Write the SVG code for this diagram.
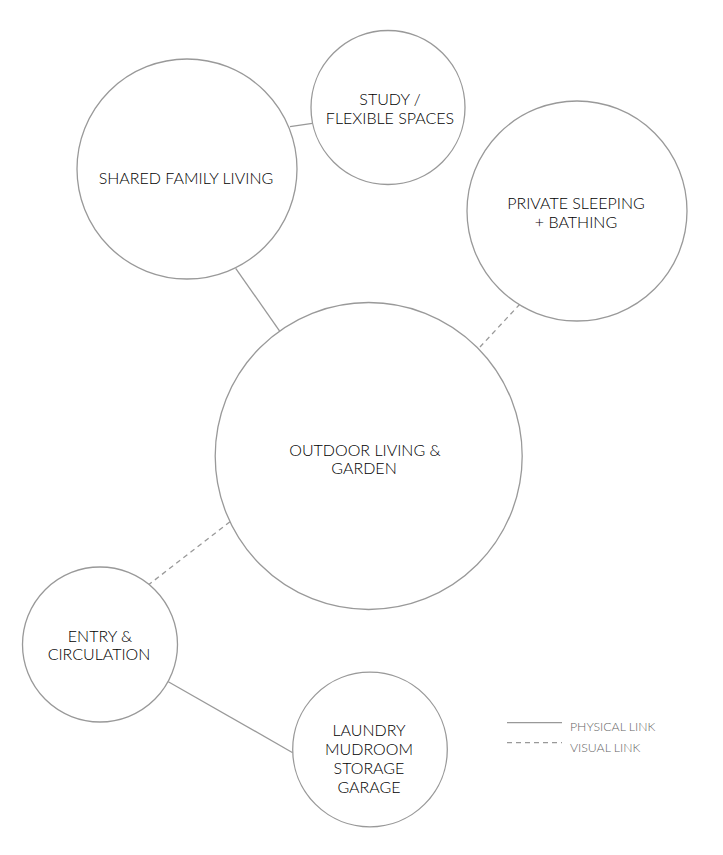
<svg xmlns="http://www.w3.org/2000/svg" width="723" height="855" viewBox="0 0 723 855">
<style>
.n{fill:#fff;stroke:#999;stroke-width:1.3}
.t{font-family:Lato,"Liberation Sans",sans-serif;font-weight:300;font-size:16px;fill:#000;text-anchor:middle}
.c{stroke:#999;stroke-width:1.3;fill:none}
.d{stroke-dasharray:5 4}
.lg{font-family:Lato,"Liberation Sans",sans-serif;font-weight:300;font-size:12.3px;fill:#666}
</style>
<rect width="723" height="855" fill="#fff"/>
<g id="connectors">
<line class="c" x1="290" y1="126.7" x2="312.3" y2="123.3"/>
<line class="c" x1="235.7" y1="268.3" x2="280" y2="331.7"/>
<line class="c d" x1="520" y1="304" x2="480" y2="347"/>
<line class="c d" x1="230" y1="521.7" x2="148.3" y2="585"/>
<line class="c" x1="168.3" y1="681.7" x2="292.7" y2="752.7"/>
</g>
<g id="shared">
<circle class="n" cx="187" cy="169" r="110"/>
<text class="t" x="186" y="184">SHARED FAMILY LIVING</text>
</g>
<g id="study">
<circle class="n" cx="388" cy="107.5" r="77"/>
<text class="t" x="390" y="105">STUDY /</text>
<text class="t" x="390" y="124">FLEXIBLE SPACES</text>
</g>
<g id="private">
<circle class="n" cx="577" cy="211" r="110"/>
<text class="t" x="576" y="209">PRIVATE SLEEPING</text>
<text class="t" x="576" y="228">+ BATHING</text>
</g>
<g id="outdoor">
<circle class="n" cx="368.7" cy="456" r="153.5"/>
<text class="t" x="365" y="455.5">OUTDOOR LIVING &amp;</text>
<text class="t" x="364" y="474.3">GARDEN</text>
</g>
<g id="entry">
<circle class="n" cx="100" cy="644.5" r="77.5"/>
<text class="t" x="100" y="641.5">ENTRY &amp;</text>
<text class="t" x="99" y="660">CIRCULATION</text>
</g>
<g id="laundry">
<circle class="n" cx="370" cy="749.5" r="77.3"/>
<text class="t" x="369" y="736">LAUNDRY</text>
<text class="t" x="369" y="755">MUDROOM</text>
<text class="t" x="369" y="774">STORAGE</text>
<text class="t" x="369" y="793">GARAGE</text>
</g>
<g id="legend">
<line class="c" x1="507" y1="722.7" x2="562" y2="722.7"/>
<text class="lg" x="570" y="730.7">PHYSICAL LINK</text>
<line class="c d" x1="507" y1="742.7" x2="562" y2="742.7"/>
<text class="lg" x="570" y="751.7">VISUAL LINK</text>
</g>
</svg>
